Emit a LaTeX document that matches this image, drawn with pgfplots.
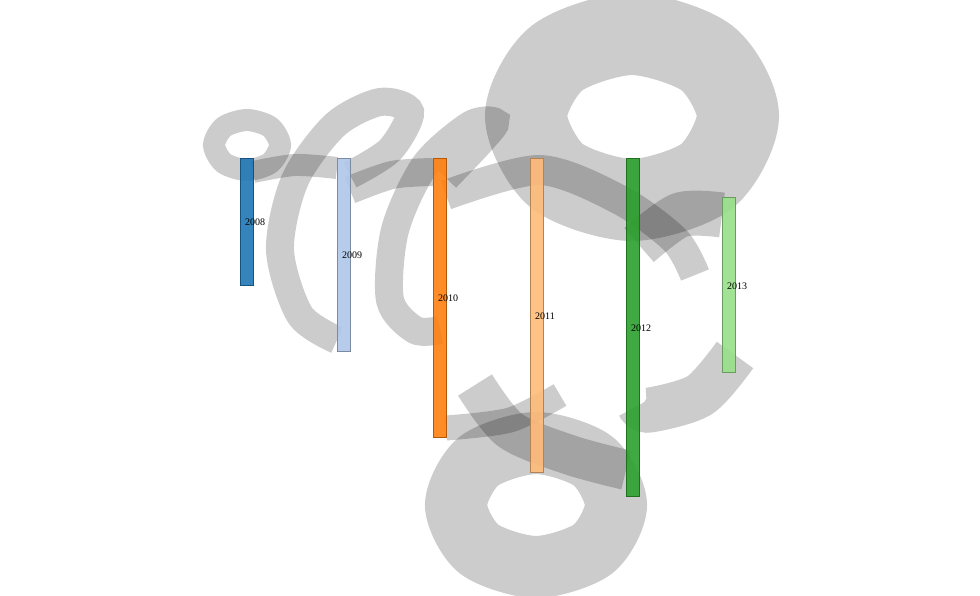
\documentclass[border=0pt]{standalone}
\usepackage{pgfplots}
\pgfplotsset{compat=1.18}
\usepackage{fontspec}
\setmainfont{Liberation Serif}
\definecolor{c8}{HTML}{1F77B4}
\definecolor{c9}{HTML}{AEC7E8}
\definecolor{c10}{HTML}{FF7F0E}
\definecolor{c11}{HTML}{FFBB78}
\definecolor{c12}{HTML}{2CA02C}
\definecolor{c13}{HTML}{98DF8A}
\begin{document}
\begin{tikzpicture}
\begin{axis}[width=980pt,height=596pt,scale only axis,hide axis,
  xmin=0,xmax=980,ymin=0,ymax=596,y dir=reverse,clip=true]
\pgfplotsset{lnk/.style={draw=black,draw opacity=0.2,no marks,smooth,fill=none}}
% self loops
\addplot[lnk,line width=22pt,smooth cycle] coordinates {(214,145)(224,127)(247,120)(270,127)(280,145)(270,163)(247,170)(224,163)};
\addplot[lnk,line width=82pt,smooth cycle] coordinates {(526,116)(557,58)(632,34)(707,58)(738,116)(707,176)(632,200)(557,176)};
\addplot[lnk,line width=62pt,smooth cycle] coordinates {(456,505)(479,461)(536,443)(593,461)(616,505)(593,549)(536,567)(479,549)};
% forward links
\addplot[lnk,line width=22pt] coordinates {(253,172)(295,165)(337,168)};
\addplot[lnk,line width=28pt] coordinates {(350,190)(392,175)(433,172)};
\addplot[lnk,line width=30pt] coordinates {(446,195)(540,170)(620,200)(675,240)(695,275)};
\addplot[lnk,line width=45pt] coordinates {(639,245)(680,215)(722,215)};
\addplot[lnk,line width=25pt] coordinates {(446,428)(510,420)(560,395)};
% backward links
\addplot[lnk,line width=28pt] coordinates {(350,175)(390,150)(410,112)(380,102)(335,125)(295,180)(280,250)(300,315)(337,340)};
\addplot[lnk,line width=28pt] coordinates {(446,178)(482,140)(495,122)(470,125)(425,165)(395,230)(390,300)(415,330)(440,330)};
\addplot[lnk,line width=45pt] coordinates {(735,355)(700,395)(650,410)(639,405)};
\addplot[lnk,line width=40pt] coordinates {(626,470)(570,455)(510,430)(475,385)};
% nodes
\pgfplotsset{nd/.style={no marks,fill opacity=0.9,line width=0.6pt}}
\addplot[nd,fill=c8,draw=c8!70!black] coordinates {(240,158)(253,158)(253,285)(240,285)} --cycle;
\addplot[nd,fill=c9,draw=c9!70!black] coordinates {(337,158)(350,158)(350,351)(337,351)} --cycle;
\addplot[nd,fill=c10,draw=c10!70!black] coordinates {(433,158)(446,158)(446,437)(433,437)} --cycle;
\addplot[nd,fill=c11,draw=c11!70!black] coordinates {(530,158)(543,158)(543,472)(530,472)} --cycle;
\addplot[nd,fill=c12,draw=c12!70!black] coordinates {(626,158)(639,158)(639,496)(626,496)} --cycle;
\addplot[nd,fill=c13,draw=c13!70!black] coordinates {(722,197)(735,197)(735,372)(722,372)} --cycle;
\pgfplotsset{every node/.style={font=\fontsize{16}{18}\selectfont,anchor=west}}
\node at (axis cs:255,222) {2008};
\node at (axis cs:352,255) {2009};
\node at (axis cs:448,298) {2010};
\node at (axis cs:545,316) {2011};
\node at (axis cs:641,328) {2012};
\node at (axis cs:737,286) {2013};
\end{axis}
\pgfresetboundingbox
\path[use as bounding box] (current axis.south west) rectangle (current axis.north east);
\end{tikzpicture}
\end{document}
